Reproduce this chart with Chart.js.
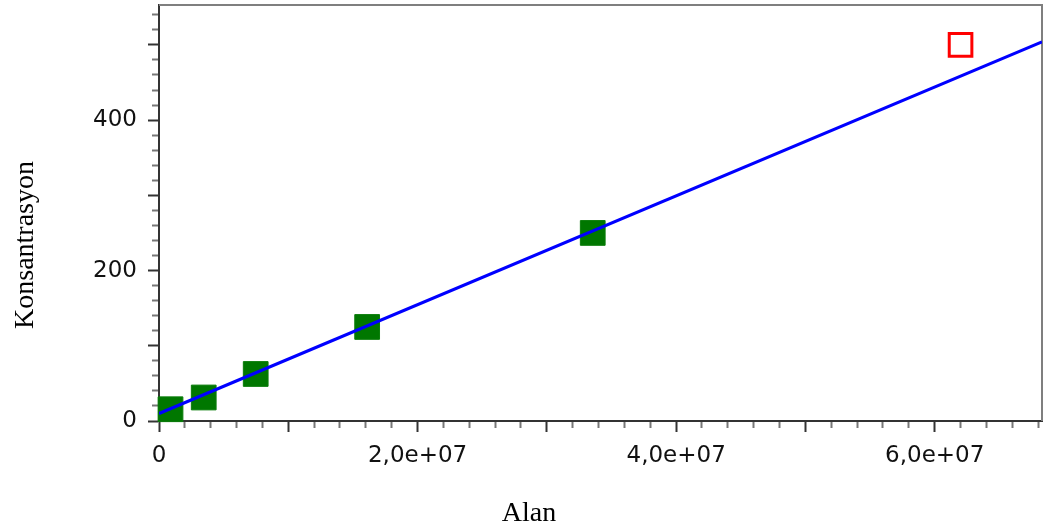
<!DOCTYPE html>
<html>
<head>
<meta charset="utf-8">
<script src="https://cdn.jsdelivr.net/npm/chart.js@4"></script>
<style>
html, body { margin: 0; padding: 0; background: #ffffff; }
#wrap { width: 1047px; height: 528px; position: relative; }
</style>
</head>
<body>
<div id="wrap"><canvas id="c"></canvas></div>
<script>
// ---- data ----
const standardAreas = [0.89e6, 3.46e6, 7.48e6, 16.1e6, 33.55e6];
const standardConc  = [15.625, 31.25, 62.5, 125, 250];
const outlierAreas  = [62.0e6];
const outlierConc   = [500];
const fitAreas      = [0, 68.3e6];
const fitConc       = [10, 504];
const xTickValues   = [0, 2e7, 4e7, 6e7];
const xTickLabels   = ['0', '2,0e+07', '4,0e+07', '6,0e+07'];
const yTickValues   = [0, 200, 400];
const yTickLabels   = ['0', '200', '400'];
const xTitle = 'Alan';
const yTitle = 'Konsantrasyon';

const X_MAX = 68.3e6, X_MINOR = 2e6, X_MAJOR = 1e7;
const Y_MAX = 553,    Y_MINOR = 20,  Y_MAJOR = 100;

const toPoints = (xs, ys) => xs.map((x, i) => ({ x: x, y: ys[i] }));
const isMult = (v, m) => Math.abs(v / m - Math.round(v / m)) < 1e-6;

function minorTicks(max, step) {
  const out = [];
  for (let k = 0; k * step <= max + 1e-9; k++) out.push({ value: k * step });
  return out;
}

function tickStyle(major, minor, shortDash, shortOffset) {
  return {
    drawOnChartArea: false,
    drawTicks: true,
    tickLength: 11,
    tickWidth: 2,
    tickColor: (c) => {
      if (!c.tick) return '#333333';
      const v = c.tick.value;
      if (isMult(v, major)) return '#333333';
      if (isMult(v, minor)) return '#777777';
      return 'rgba(0,0,0,0)';
    },
    tickBorderDash: (c) => (c.tick && isMult(c.tick.value, major)) ? [] : shortDash,
    tickBorderDashOffset: (c) => (c.tick && isMult(c.tick.value, major)) ? 0 : shortOffset
  };
}

const boxAndTitles = {
  id: 'boxAndTitles',
  beforeDatasetsDraw(chart) {
    const { ctx, chartArea: a } = chart;
    ctx.save();
    ctx.strokeStyle = '#7f7f7f';
    ctx.lineWidth = 2;
    ctx.beginPath();
    ctx.moveTo(a.left, a.top);
    ctx.lineTo(a.right, a.top);
    ctx.lineTo(a.right, a.bottom);
    ctx.stroke();
    ctx.restore();
  },
  afterDraw(chart) {
    const { ctx } = chart;
    ctx.save();
    ctx.fillStyle = '#000000';
    ctx.font = '28px "Liberation Serif", "Times New Roman", serif';
    ctx.textAlign = 'center';
    ctx.textBaseline = 'alphabetic';
    ctx.fillText(xTitle, 529, 521);
    ctx.translate(33, 245);
    ctx.rotate(-Math.PI / 2);
    ctx.fillText(yTitle, 0, 0);
    ctx.restore();
  }
};

const tickFont = { family: '"DejaVu Sans", Verdana, sans-serif', size: 23 };

new Chart(document.getElementById('c'), {
  type: 'scatter',
  data: {
    datasets: [
      {
        label: 'fit',
        data: toPoints(fitAreas, fitConc),
        showLine: true,
        borderColor: '#0000ff',
        borderWidth: 3.2,
        pointRadius: 0,
        pointHoverRadius: 0,
        fill: false
      },
      {
        label: 'standards',
        data: toPoints(standardAreas, standardConc),
        pointStyle: 'rect',
        pointRadius: 17.5,
        pointHoverRadius: 17.5,
        backgroundColor: '#007700',
        borderColor: '#0a7d0a',
        borderWidth: 1,
        clip: false
      },
      {
        label: 'excluded',
        data: toPoints(outlierAreas, outlierConc),
        pointStyle: 'rect',
        pointRadius: 16,
        pointHoverRadius: 16,
        backgroundColor: 'rgba(255,255,255,0)',
        borderColor: '#ff0000',
        borderWidth: 3,
        clip: false
      }
    ]
  },
  options: {
    responsive: true,
    maintainAspectRatio: false,
    animation: false,
    events: [],
    layout: { autoPadding: false, padding: { left: 0, top: 5, right: 5, bottom: 0 } },
    plugins: { legend: { display: false }, tooltip: { enabled: false } },
    scales: {
      x: {
        type: 'linear',
        position: 'bottom',
        min: 0,
        max: X_MAX,
        bounds: 'data',
        afterBuildTicks: (s) => { s.ticks = minorTicks(X_MAX, X_MINOR); },
        afterFit: (s) => { s.height = 107; s.paddingLeft = 0; s.paddingRight = 0; },
        border: { display: true, color: '#333333', width: 2 },
        grid: tickStyle(X_MAJOR, X_MINOR, [6, 40], 0),
        ticks: {
          autoSkip: false,
          maxRotation: 0,
          minRotation: 0,
          padding: 10,
          color: '#111111',
          font: tickFont,
          callback: (v) => {
            const i = xTickValues.findIndex(t => Math.abs(t - v) < 1);
            return i >= 0 ? xTickLabels[i] : '';
          }
        }
      },
      y: {
        type: 'linear',
        position: 'left',
        min: 0,
        max: Y_MAX,
        bounds: 'data',
        afterBuildTicks: (s) => { s.ticks = minorTicks(Y_MAX, Y_MINOR); },
        afterFit: (s) => { s.width = 159; s.paddingTop = 0; s.paddingBottom = 0; },
        border: { display: true, color: '#333333', width: 2 },
        grid: tickStyle(Y_MAJOR, Y_MINOR, [6, 4], 6),
        ticks: {
          autoSkip: false,
          padding: 11,
          color: '#111111',
          font: tickFont,
          callback: (v) => {
            const i = yTickValues.findIndex(t => Math.abs(t - v) < 1e-6);
            return i >= 0 ? yTickLabels[i] : '';
          }
        }
      }
    }
  },
  plugins: [boxAndTitles]
});
</script>
</body>
</html>
